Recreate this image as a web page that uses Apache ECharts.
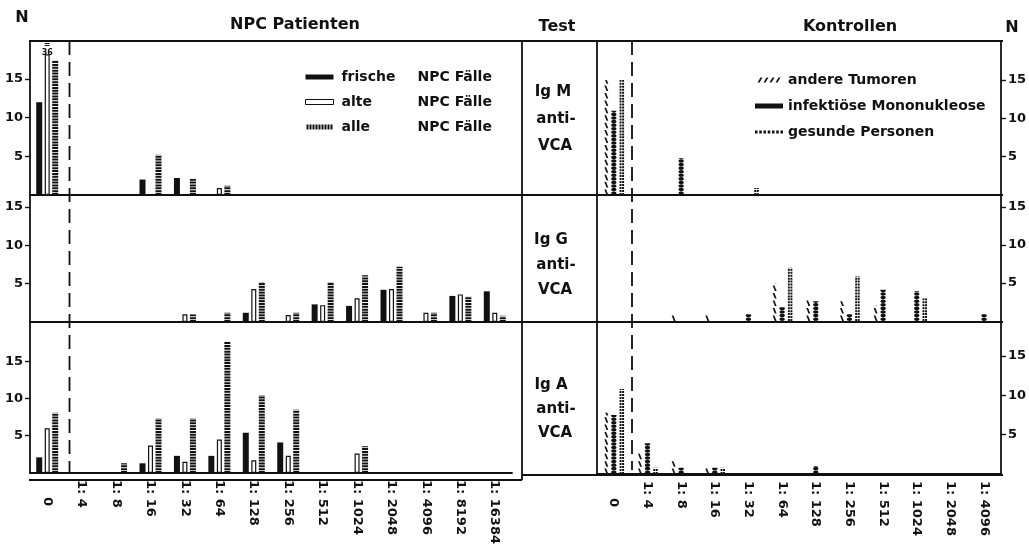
<!DOCTYPE html>
<html><head><meta charset="utf-8">
<script src="https://cdn.jsdelivr.net/npm/echarts@6/dist/echarts.min.js"></script>
<style>html,body{margin:0;padding:0;background:#fff}#c{width:1029px;height:547px}</style>
</head><body><div id="c"></div>
<script>
// ---------- data ----------
const categoriesLeft = ['0','1: 4','1: 8','1: 16','1: 32','1: 64','1: 128','1: 256','1: 512','1: 1024','1: 2048','1: 4096','1: 8192','1: 16384'];
const categoriesRight = ['0','1: 4','1: 8','1: 16','1: 32','1: 64','1: 128','1: 256','1: 512','1: 1024','1: 2048','1: 4096'];
const yTicks = [5, 10, 15];

// NPC Patienten
const frischeIgM = [12, 0, 0, 2, 2.2, 0, 0, 0, 0, 0, 0, 0, 0, 0];
const alteIgM    = [18.2, 0, 0, 0, 0, 0.9, 0, 0, 0, 0, 0, 0, 0, 0];
const alleIgM    = [36, 0, 0, 5.2, 2.1, 1.2, 0, 0, 0, 0, 0, 0, 0, 0];
const frischeIgG = [0, 0, 0, 0, 0, 0, 1.2, 0, 2.3, 2.1, 4.2, 0, 3.4, 4.0];
const alteIgG    = [0, 0, 0, 0, 1.0, 0, 4.3, 0.9, 2.2, 3.1, 4.3, 1.2, 3.6, 1.2];
const alleIgG    = [0, 0, 0, 0, 1.0, 1.2, 5.2, 1.2, 5.2, 6.1, 7.2, 1.2, 3.3, 0.8];
const frischeIgA = [2.1, 0, 0, 1.3, 2.3, 2.3, 5.4, 4.1, 0, 0, 0, 0, 0, 0];
const alteIgA    = [6.0, 0, 0, 3.7, 1.5, 4.5, 1.7, 2.3, 0, 2.6, 0, 0, 0, 0];
const alleIgA    = [8.1, 0, 1.3, 7.3, 7.3, 17.6, 10.4, 8.5, 0, 3.6, 0, 0, 0, 0];

// Kontrollen
const andereIgM = [15, 0, 0, 0, 0, 0, 0, 0, 0, 0, 0, 0];
const infIgM    = [11, 0, 4.8, 0, 0, 0, 0, 0, 0, 0, 0, 0];
const gesIgM    = [15, 0, 0, 0, 0.9, 0, 0, 0, 0, 0, 0, 0];
const andereIgG = [0, 0, 0.8, 0.8, 0, 5.0, 2.9, 2.6, 2.0, 0, 0, 0];
const infIgG    = [0, 0, 0, 0, 0.9, 1.8, 2.6, 0.9, 4.1, 3.9, 0, 0.9];
const gesIgG    = [0, 0, 0, 0, 0, 7.0, 0, 5.9, 0, 3.0, 0, 0];
const andereIgA = [7.8, 2.8, 1.8, 0.8, 0, 0, 0, 0, 0, 0, 0, 0];
const infIgA    = [7.5, 3.9, 0.8, 0.8, 0, 0, 1.0, 0, 0, 0, 0, 0];
const gesIgA    = [10.8, 0.8, 0, 0.8, 0, 0, 0, 0, 0, 0, 0, 0];

const offScaleShown = 17.4; // drawn height of the off-scale bar (its value is printed above it)

// ---------- styling / layout ----------
const INK = '#111';
const FONT = 'DejaVu Sans';
const names = {
  frische: 'frische NPC Fälle', alte: 'alte NPC Fälle', alle: 'alle NPC Fälle',
  andere: 'andere Tumoren', inf: 'infektiöse Mononukleose', ges: 'gesunde Personen'
};
const kinds = {
  frische: {symbol: 'rect', symbolSize: [6, '100%'], off: -8, itemStyle: {color: INK}},
  alle: {symbol: 'rect', symbolSize: [6, 2], symbolRepeat: true, symbolMargin: 0.45, off: 8, itemStyle: {color: INK}},
  andere: {symbol: 'path://M0,0L1.8,0L4,6L2.2,6Z', symbolSize: [4, 5.5], symbolRepeat: true, symbolMargin: 1.1, off: -7.5, itemStyle: {color: INK}},
  inf: {symbol: 'circle', symbolSize: [5.5, 3.6], symbolRepeat: true, symbolMargin: 0, off: 0, itemStyle: {color: INK}},
  ges: {symbol: 'path://M0,0h2v2h-2zM2.6,0h2v2h-2z', symbolSize: [4.5, 2], symbolRepeat: true, symbolMargin: 0.5, off: 8, itemStyle: {color: INK}}
};

const grids = [
  {left: 30, top: 41, width: 482, height: 154, max: 19.92},
  {left: 30, top: 195, width: 482, height: 127, max: 16.56},
  {left: 30, top: 322, width: 482, height: 158, max: 20.26},
  {left: 597, top: 41, width: 405, height: 154, max: 20.08},
  {left: 597, top: 195, width: 405, height: 126, max: 16.58},
  {left: 597, top: 322, width: 405, height: 152, max: 19.31}
];

const lbl = {color: INK, fontSize: 13, fontWeight: 'bold', fontFamily: FONT};

function xa(gi, cats, bottom) {
  return {
    type: 'category', gridIndex: gi, data: cats,
    axisTick: {show: false},
    axisLine: {show: bottom, lineStyle: {color: INK, width: 1.8}},
    axisLabel: Object.assign({
      show: bottom, interval: 0, rotate: -90, margin: 7,
      formatter: v => v === '0' ? '{z|0}' : v,
      rich: {z: Object.assign({padding: [0, 0, 0, 17]}, lbl)}
    }, lbl)
  };
}
function ya(gi, right) {
  return {
    type: 'value', gridIndex: gi, min: 0, max: grids[gi].max, interval: 5,
    position: right ? 'right' : 'left',
    splitLine: {show: false},
    axisLine: {show: true, lineStyle: {color: INK, width: 1.8}},
    axisTick: {show: true, length: 5, lineStyle: {color: INK, width: 1.4}, customValues: yTicks},
    axisLabel: Object.assign({customValues: yTicks, margin: 7}, lbl)
  };
}
function cleanData(data, gi) {
  const max = grids[gi].max;
  return data.map(v => {
    if (!(v > 0)) return '-';
    if (v > max) return {value: offScaleShown, label: {show: true, position: 'top', distance: 1,
      formatter: '=\n' + v, fontSize: 8, lineHeight: 8, fontWeight: 'bold', fontFamily: FONT, color: INK}};
    return v;
  });
}
function ser(kind, data, gi) {
  const k = kinds[kind];
  const s = {
    type: 'pictorialBar', name: names[kind], xAxisIndex: gi, yAxisIndex: gi,
    data: cleanData(data, gi), symbol: k.symbol, symbolSize: k.symbolSize, symbolOffset: [k.off, 0],
    itemStyle: k.itemStyle, silent: true
  };
  if (k.symbolRepeat) { s.symbolRepeat = true; s.symbolMargin = k.symbolMargin; s.symbolClip = true; }
  return s;
}
function serAlte(data, gi) {
  return {type: 'bar', name: names.alte, xAxisIndex: gi, yAxisIndex: gi, data: cleanData(data, gi),
    barWidth: 5, silent: true, itemStyle: {color: '#fff', borderColor: INK, borderWidth: 1.2}};
}

let stripes = 'path://';
for (let i = 0; i < 9; i++) stripes += 'M' + (i * 3) + ',0h2v5h-2z';
let slashes = 'path://';
for (let i = 0; i < 4; i++) slashes += 'M' + (i * 6) + ',5L' + (i * 6 + 2) + ',5L' + (i * 6 + 5) + ',0L' + (i * 6 + 3) + ',0Z';
let dots = 'path://';
for (let i = 0; i < 7; i++) dots += 'M' + (i * 4) + ',0h2.4v3h-2.4z';

const legTxt = {fontFamily: FONT, fontWeight: 'bold', fontSize: 14, color: INK, lineHeight: 16};

const frame = [
  [29, 41, 1003, 41], [29, 195, 1003, 195], [29, 322, 1003, 322],
  [29, 480, 522, 480], [522, 475, 1003, 475],
  [522, 41, 522, 480], [597, 41, 597, 475]
].map(p => ({type: 'line', shape: {x1: p[0], y1: p[1], x2: p[2], y2: p[3]},
  style: {stroke: INK, lineWidth: 1.8}, silent: true}));
const dashes = [[69.5, 41, 69.5, 472], [632, 41, 632, 470]].map(p => ({type: 'line',
  shape: {x1: p[0], y1: p[1], x2: p[2], y2: p[3]},
  style: {stroke: INK, lineWidth: 1.8, lineDash: [14, 7]}, silent: true}));
function txt(t, x, y, size) {
  return {type: 'text', x: x, y: y, silent: true, style: {text: t, fill: INK,
    font: 'bold ' + size + 'px ' + FONT, textAlign: 'center', textVerticalAlign: 'middle',
    align: 'center', verticalAlign: 'middle'}};
}
const texts = [
  txt('N', 22, 18, 16), txt('NPC Patienten', 295, 25, 16), txt('Test', 557, 27, 16),
  txt('Kontrollen', 850, 27, 16), txt('N', 1012, 28, 16),
  txt('Ig M', 553, 92, 15), txt('anti-', 556, 119, 15), txt('VCA', 555, 146, 15),
  txt('Ig G', 551, 240, 15), txt('anti-', 556, 265, 15), txt('VCA', 555, 290, 15),
  txt('Ig A', 551, 385, 15), txt('anti-', 556, 409, 15), txt('VCA', 555, 433, 15)
];

const option = {
  animation: false,
  backgroundColor: '#fff',
  grid: grids.map(g => ({left: g.left, top: g.top, width: g.width, height: g.height})),
  xAxis: [xa(0, categoriesLeft, false), xa(1, categoriesLeft, false), xa(2, categoriesLeft, true),
          xa(3, categoriesRight, false), xa(4, categoriesRight, false), xa(5, categoriesRight, true)],
  yAxis: [ya(0, false), ya(1, false), ya(2, false), ya(3, true), ya(4, true), ya(5, true)],
  legend: [
    {orient: 'vertical', left: 305, top: 69, padding: 0, itemWidth: 28, itemHeight: 5, itemGap: 9, selectedMode: false,
     data: [
       {name: names.frische, icon: 'rect', itemStyle: {color: INK, borderWidth: 0}},
       {name: names.alte, icon: 'rect', itemStyle: {color: '#fff', borderColor: INK, borderWidth: 1}},
       {name: names.alle, icon: stripes, itemStyle: {color: INK, borderWidth: 0}}
     ],
     formatter: n => { const p = n.split(' '); return '{a|' + p[0] + '}{b|' + p.slice(1).join(' ') + '}'; },
     textStyle: Object.assign({padding: [0, 0, 0, 3], rich: {a: Object.assign({width: 76}, legTxt), b: legTxt}}, legTxt)},
    {orient: 'vertical', left: 755, top: 72, padding: 0, itemWidth: 28, itemHeight: 5, itemGap: 10, selectedMode: false,
     data: [
       {name: names.andere, icon: slashes, itemStyle: {color: INK, borderWidth: 0}},
       {name: names.inf, icon: 'rect', itemStyle: {color: INK, borderWidth: 0}},
       {name: names.ges, icon: dots, itemStyle: {color: INK, borderWidth: 0}}
     ],
     textStyle: Object.assign({}, legTxt, {fontSize: 14})}
  ],
  series: [
    ser('frische', frischeIgM, 0), serAlte(alteIgM, 0), ser('alle', alleIgM, 0),
    ser('frische', frischeIgG, 1), serAlte(alteIgG, 1), ser('alle', alleIgG, 1),
    ser('frische', frischeIgA, 2), serAlte(alteIgA, 2), ser('alle', alleIgA, 2),
    ser('andere', andereIgM, 3), ser('inf', infIgM, 3), ser('ges', gesIgM, 3),
    ser('andere', andereIgG, 4), ser('inf', infIgG, 4), ser('ges', gesIgG, 4),
    ser('andere', andereIgA, 5), ser('inf', infIgA, 5), ser('ges', gesIgA, 5)
  ],
  graphic: {elements: frame.concat(dashes, texts)}
};

const chart = echarts.init(document.getElementById('c'), null, {renderer: 'canvas'});
chart.setOption(option);
</script>
</body></html>
